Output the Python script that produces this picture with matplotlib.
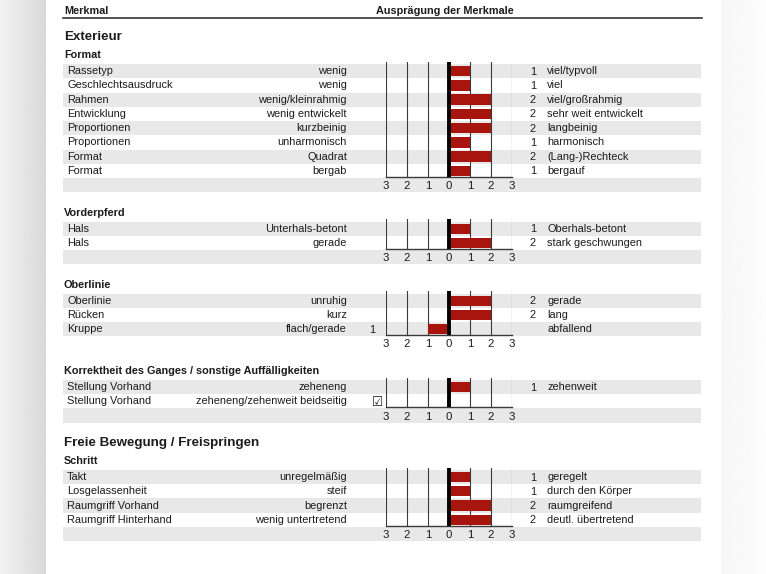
import numpy as np
import matplotlib
matplotlib.use("Agg")
import matplotlib.pyplot as plt
from matplotlib.patches import Rectangle

plt.rcParams['font.family'] = ['Liberation Sans', 'DejaVu Sans']

# ---------------- data ----------------
header_left = "Merkmal"
header_right = "Ausprägung der Merkmale"

big_titles = ["Exterieur", None, None, None, "Freie Bewegung / Freispringen"]
sub_titles = ["Format", "Vorderpferd", "Oberlinie",
              "Korrektheit des Ganges / sonstige Auffälligkeiten", "Schritt"]

format_labels = ["Rassetyp", "Geschlechtsausdruck", "Rahmen", "Entwicklung",
                 "Proportionen", "Proportionen", "Format", "Format"]
format_left = ["wenig", "wenig", "wenig/kleinrahmig", "wenig entwickelt",
               "kurzbeinig", "unharmonisch", "Quadrat", "bergab"]
format_values = [1, 1, 2, 2, 2, 1, 2, 1]
format_right = ["viel/typvoll", "viel", "viel/großrahmig", "sehr weit entwickelt",
                "langbeinig", "harmonisch", "(Lang-)Rechteck", "bergauf"]

vorder_labels = ["Hals", "Hals"]
vorder_left = ["Unterhals-betont", "gerade"]
vorder_values = [1, 2]
vorder_right = ["Oberhals-betont", "stark geschwungen"]

ober_labels = ["Oberlinie", "Rücken", "Kruppe"]
ober_left = ["unruhig", "kurz", "flach/gerade"]
ober_values = [2, 2, -1]
ober_right = ["gerade", "lang", "abfallend"]

korr_labels = ["Stellung Vorhand", "Stellung Vorhand"]
korr_left = ["zeheneng", "zeheneng/zehenweit beidseitig"]
korr_values = [1, None]
korr_right = ["zehenweit", ""]

schritt_labels = ["Takt", "Losgelassenheit", "Raumgriff Vorhand", "Raumgriff Hinterhand"]
schritt_left = ["unregelmäßig", "steif", "begrenzt", "wenig untertretend"]
schritt_values = [1, 1, 2, 2]
schritt_right = ["geregelt", "durch den Körper", "raumgreifend", "deutl. übertretend"]

tick_values = [-3, -2, -1, 0, 1, 2, 3]
tick_labels = ["3", "2", "1", "0", "1", "2", "3"]

sections = [
    (format_labels, format_left, format_values, format_right),
    (vorder_labels, vorder_left, vorder_values, vorder_right),
    (ober_labels, ober_left, ober_values, ober_right),
    (korr_labels, korr_left, korr_values, korr_right),
    (schritt_labels, schritt_left, schritt_values, schritt_right),
]

# ---------------- layout (pixels) ----------------
W, H = 766, 574
RH = 14.25
GAP = 29.3
BIG = 18
TXT = '#1c1c1c'
BAND = '#e8e8e8'
RED = '#a8150f'
X0_PIX, X1_PIX = 386, 512

fig = plt.figure(figsize=(W / 100, H / 100), dpi=100)
bg = fig.add_axes([0, 0, 1, 1])
bg.set_xlim(0, W)
bg.set_ylim(H, 0)
bg.axis('off')

# page shadow on the sides
left_grad = np.linspace(0.95, 0.85, 50).reshape(1, -1)
bg.imshow(left_grad, extent=(0, 46, H, 0), cmap='gray', vmin=0, vmax=1,
          aspect='auto', zorder=0)
right_grad = np.linspace(0.965, 0.99, 50).reshape(1, -1)
bg.imshow(right_grad, extent=(721, W, H, 0), cmap='gray', vmin=0, vmax=1,
          aspect='auto', zorder=0)
bg.set_xlim(0, W)
bg.set_ylim(H, 0)

# header
bg.text(64, 10.5, header_left, fontsize=7.8, fontweight='bold', color=TXT,
        ha='left', va='center')
bg.text(376, 10.5, header_right, fontsize=7.8, fontweight='bold', color=TXT,
        ha='left', va='center')
bg.plot([63, 702], [17.5, 17.5], color='#222222', lw=1.1)

top = 64.0
for si, (labels, lefts, values, rights) in enumerate(sections):
    n = len(labels)
    if si > 0:
        top += GAP + (BIG if big_titles[si] else 0)
    # titles
    bg.text(64, top - 8.6, sub_titles[si], fontsize=7.8, fontweight='bold',
            color=TXT, ha='left', va='center')
    if big_titles[si]:
        bg.text(64, top - 26.5, big_titles[si], fontsize=9.6, fontweight='bold',
                color=TXT, ha='left', va='center')
    # bands (rows + tick row)
    for i in range(n + 1):
        if i % 2 == 0:
            bg.add_patch(Rectangle((63, top + i * RH), 638, RH,
                                   facecolor=BAND, edgecolor='none', zorder=1))
    # texts
    for i in range(n):
        yc = top + (i + 0.5) * RH
        bg.text(67, yc, labels[i], fontsize=7.9, color=TXT, ha='left',
                va='center', zorder=3)
        bg.text(347, yc, lefts[i], fontsize=7.9, color=TXT, ha='right',
                va='center', zorder=3)
        v = values[i]
        if v is None:
            bg.text(378, yc + 1, "\u2611", fontsize=9, color=TXT, ha='center',
                    va='center', family=['DejaVu Sans'], zorder=3)
        elif v > 0:
            bg.text(533, yc + 0.5, str(abs(v)), fontsize=7.9, color=TXT, ha='center',
                    va='center', zorder=3)
        elif v < 0:
            bg.text(372, yc + 0.5, str(abs(v)), fontsize=7.9, color=TXT, ha='center',
                    va='center', zorder=3)
        bg.text(547, yc, rights[i], fontsize=7.9, color=TXT, ha='left',
                va='center', zorder=3)

    # bar chart axes
    y_top = top - 2.3
    y_bot = top + n * RH - 1.3
    ax = fig.add_axes([X0_PIX / W, 1 - y_bot / H, (X1_PIX - X0_PIX) / W,
                       (y_bot - y_top) / H])
    ax.patch.set_alpha(0)
    ax.set_xlim(-3, 3)
    ax.set_ylim(n - 0.5 - 1.3 / RH, -0.5 - 2.3 / RH)
    vals = [0 if v is None else v for v in values]
    ax.barh(np.arange(n), vals, height=0.72, color=RED, zorder=2)
    for t in tick_values:
        if t != 0:
            ax.axvline(t, color='#3a3a3a', lw=0.8, zorder=1)
    ax.axvline(0, color='black', lw=2.8, zorder=3)
    for s in ['top', 'left', 'right']:
        ax.spines[s].set_visible(False)
    ax.spines['bottom'].set_color('#3a3a3a')
    ax.spines['bottom'].set_linewidth(1.0)
    ax.set_yticks([])
    ax.set_xticks(tick_values)
    ax.set_xticklabels(tick_labels, fontsize=8.2, color=TXT)
    ax.tick_params(axis='x', length=0, pad=3.2)

    top += (n + 1) * RH

fig.savefig("out.png", dpi=100)
